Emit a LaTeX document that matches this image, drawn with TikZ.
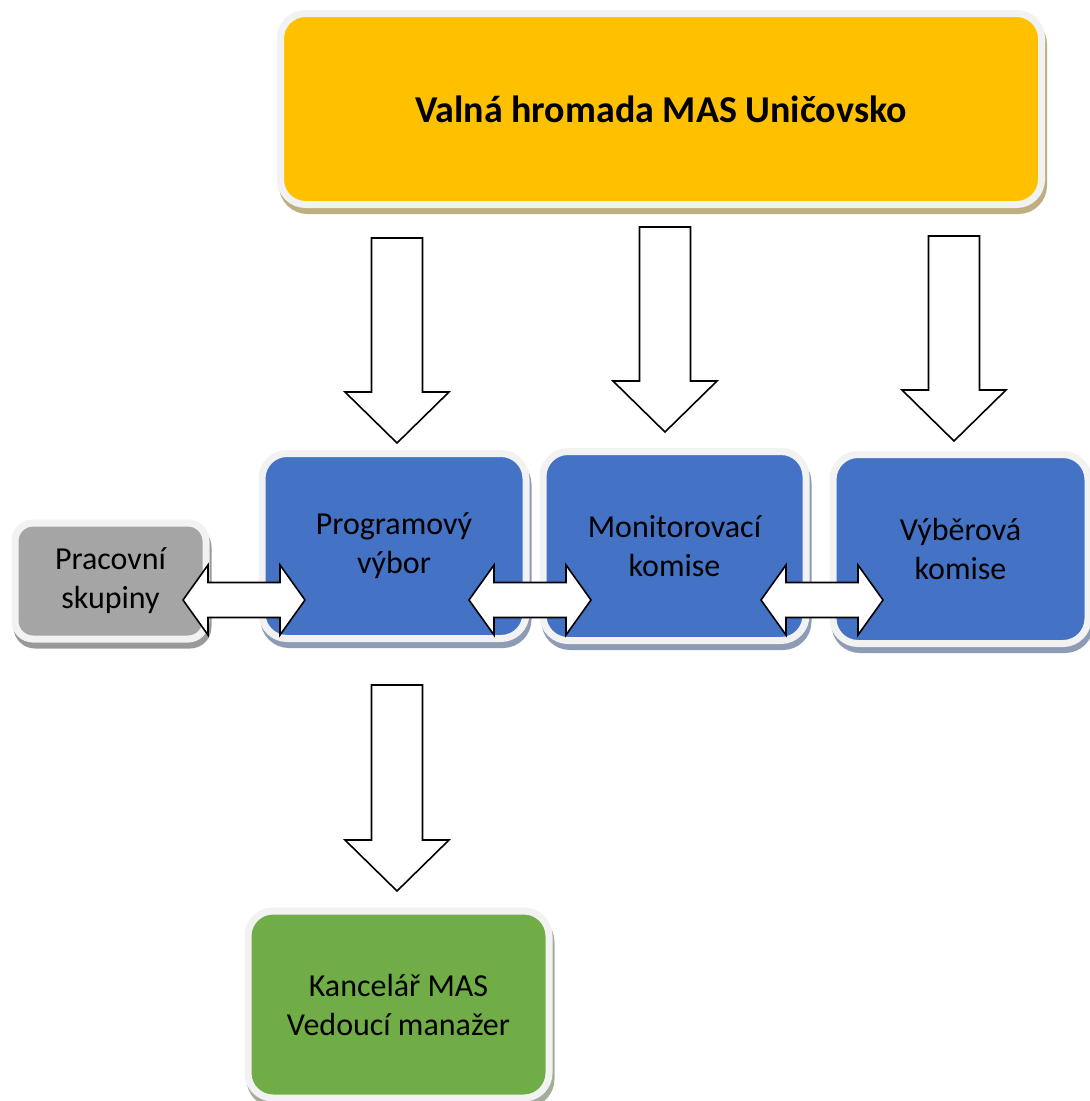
\documentclass[tikz,border=0pt]{standalone}
\usepackage{fontspec}
\setmainfont{Carlito}
\usetikzlibrary{calc}
\definecolor{valna}{HTML}{FFC000}
\definecolor{valnash}{HTML}{BFAE80}
\definecolor{modra}{HTML}{4472C4}
\definecolor{modrash}{HTML}{8E9BB5}
\definecolor{seda}{HTML}{A5A5A5}
\definecolor{sedash}{HTML}{999999}
\definecolor{zelena}{HTML}{70AD47}
\definecolor{zelenash}{HTML}{A3AE99}
\definecolor{okraj}{HTML}{F2F2F2}
\tikzset{
    box/.style={draw=okraj, line width=7pt, rounded corners=25pt, inner sep=0pt,
        align=center, text=black, font=\fontsize{32}{39}\selectfont},
    shadowed/.style={preaction={draw=#1, fill=#1, line width=7pt,
        transform canvas={shift={(2pt,-6pt)}}}},
    arr/.style={draw=black, fill=white, line width=1.6pt, line join=miter},
    downblock/.style={arr, to path={let \p1=(\tikztostart), \p2=(\tikztotarget) in
        (\x1-25.5pt,\y1) -- (\x1-25.5pt,\y2+51pt) -- (\x1-52pt,\y2+51pt) -- (\x2,\y2)
        -- (\x1+52pt,\y2+51pt) -- (\x1+25.5pt,\y2+51pt) -- (\x1+25.5pt,\y1) -- cycle}},
    dblblock/.style={arr, to path={let \p1=(\tikztostart), \p2=(\tikztotarget) in
        (\x1,\y1) -- (\x1+25pt,\y1+35pt) -- (\x1+25pt,\y1+17.5pt) -- (\x2-25pt,\y1+17.5pt)
        -- (\x2-25pt,\y1+35pt) -- (\x2,\y2) -- (\x2-25pt,\y2-35pt) -- (\x2-25pt,\y2-17.5pt)
        -- (\x1+25pt,\y1-17.5pt) -- (\x1+25pt,\y1-35pt) -- cycle}}
}
\begin{document}
\begin{tikzpicture}[x=1pt,y=-1pt]
    \useasboundingbox[fill=white] (0,0) rectangle (1090,1101);

    % boxes
    \node[box, fill=valna, shadowed=valnash, minimum width=761pt, minimum height=191pt,
        font=\fontsize{38}{44}\selectfont\bfseries] (valna) at (661,109) {Valná hromada MAS Uničovsko};
    \node[box, fill=seda, shadowed=sedash, rounded corners=18pt,
        minimum width=191pt, minimum height=116pt] (prac) at (110.5,581) {Pracovní\\skupiny};
    \node[box, fill=modra, shadowed=modrash, minimum width=264pt, minimum height=185pt]
        (prog) at (394,546) {Programový\\výbor};
    \node[box, fill=modra, shadowed=modrash, minimum width=263pt, minimum height=189pt]
        (mon) at (674.5,546) {Monitorovací\\komise};
    \node[box, fill=modra, shadowed=modrash, minimum width=255pt, minimum height=189pt]
        (vyb) at (960.5,549) {Výběrová\\komise};
    \node[box, fill=zelena, shadowed=zelenash, minimum width=301pt, minimum height=187pt]
        (kanc) at (398.5,1004.5) {Kancelář MAS\\Vedoucí manažer};

    % arrow ends
    \coordinate (d1a) at (397,238);  \coordinate (d1b) at (397,443);
    \coordinate (d2a) at (665,227);  \coordinate (d2b) at (665,432);
    \coordinate (d3a) at (954,236);  \coordinate (d3b) at (954,441);
    \coordinate (d4a) at (397,685);  \coordinate (d4b) at (397,891);
    \coordinate (h1a) at (183,600);  \coordinate (h1b) at (305,600);
    \coordinate (h2a) at (469,600);  \coordinate (h2b) at (591,600);
    \coordinate (h3a) at (761,600);  \coordinate (h3b) at (883,600);

    \draw[downblock] (d1a) to (d1b);
    \draw[downblock] (d2a) to (d2b);
    \draw[downblock] (d3a) to (d3b);
    \draw[downblock] (d4a) to (d4b);
    \draw[dblblock] (h1a) to (h1b);
    \draw[dblblock] (h2a) to (h2b);
    \draw[dblblock] (h3a) to (h3b);
\end{tikzpicture}
\end{document}
